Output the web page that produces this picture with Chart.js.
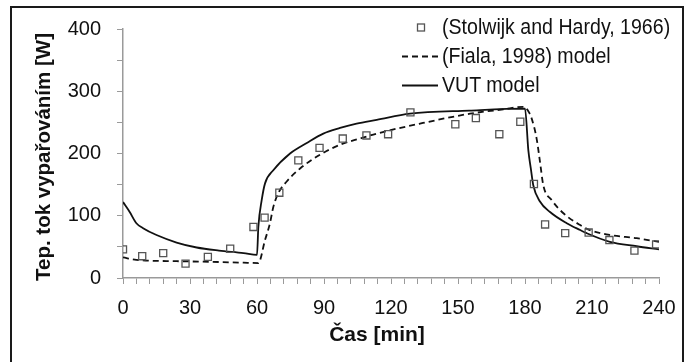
<!DOCTYPE html>
<html>
<head>
<meta charset="utf-8">
<script src="https://cdn.jsdelivr.net/npm/chart.js@4.4.0/dist/chart.umd.min.js"></script>
<style>
  html, body { margin: 0; padding: 0; background: #fff; overflow: hidden; }
  #wrap { position: relative; width: 692px; height: 362px; font-family: 'Liberation Sans', Arial, sans-serif; color: #111; }
  #frame { position: absolute; left: 10px; top: 6px; width: 670px; height: 400px; border: 2px solid #1a1a1a; pointer-events: none; }
  canvas { position: absolute; left: 0; top: 0; }
  #legend { position: absolute; left: 398px; top: 12.5px; font-size: 22px; }
  .row { height: 29px; display: flex; align-items: center; white-space: nowrap; }
  .row svg { width: 44px; height: 29px; flex: none; }
  .row span { display: inline-block; transform: scaleX(0.89); transform-origin: left center; }
  .axis-title { position: absolute; font-weight: bold; font-size: 21px; text-align: center; white-space: nowrap; }
  #xTitle { left: 277px; top: 320px; width: 200px; line-height: 28px; }
  #yTitle { left: -107px; top: 143px; width: 300px; line-height: 28px; font-size: 20.5px; transform: rotate(-90deg); }
</style>
</head>
<body>
<div id="wrap">
  <canvas id="chart" width="692" height="362"></canvas>
  <div id="frame"></div>
  <div id="xTitle" class="axis-title"></div>
  <div id="yTitle" class="axis-title"></div>
  <div id="legend"></div>
</div>
<script>
// measured points (Stolwijk and Hardy, 1966)
const stolTime = [0, 8.6, 18, 28, 38, 48, 58.4, 63.4, 70, 78.5, 88, 98.4, 109, 118.7, 128.7, 148.8, 158, 168.5, 177.9, 184, 189, 198, 208.5, 217.8, 229, 238.7];
const stolFlux = [46, 35, 40, 23, 34, 47, 82, 97, 137, 189, 209, 224, 229, 231, 266, 247, 257, 231, 251, 151, 86, 72, 73, 61, 44, 54];

// VUT model
const vutTime = [0, 3, 6, 9, 15, 24, 33, 43, 54, 60, 60.6, 62.1, 63.6, 67.3, 74.8, 82.3, 89.7, 97.2, 104.6, 113.6, 128.5, 155, 180, 181.5, 182.6, 183.7, 186.7, 191.2, 198.7, 204.7, 207.6, 218, 230, 240];
const vutFlux = [122, 106, 88, 80, 69, 57, 49, 44, 40, 37, 82, 125, 152, 173, 200, 217, 232, 241, 248, 254, 264, 269, 272, 205, 176, 149, 123, 106, 88, 77, 72, 58, 51, 46];

// Fiala, 1998 model
const fialaTime = [0, 6, 24, 39, 54, 60.6, 63.6, 65.8, 67.3, 69.5, 73.3, 79.3, 88.2, 97.2, 106, 113.6, 133, 155.4, 170.3, 179.3, 181.5, 183, 185.2, 186.7, 188.2, 192, 197.2, 204.7, 209, 218, 230, 240];
const fialaFlux = [33, 29, 27, 26, 24.6, 24, 61, 88, 114, 136, 155, 176, 198, 214, 224, 232, 248, 264, 271, 275, 268, 256, 224, 187, 149, 125, 104, 85, 77, 69, 64, 58];

// axis ticks and labels
const xMajor = [0, 30, 60, 90, 120, 150, 180, 210, 240];
const yMajor = [0, 100, 200, 300, 400];
const xLabel = 'Čas [min]';
const yLabel = 'Tep. tok vypařováním [W]';
const seriesNames = ['(Stolwijk and Hardy, 1966)', '(Fiala, 1998) model', 'VUT model'];

const pts = (xs, ys) => xs.map((x, i) => ({ x, y: ys[i] }));
const axisGrey = '#9a9a9a';

document.getElementById('xTitle').textContent = xLabel;
document.getElementById('yTitle').textContent = yLabel;

// legend symbols drawn next to the real text
const symbols = [
  '<rect x="19.5" y="11" width="7" height="7" fill="none" stroke="#555" stroke-width="1.3"/>',
  '<line x1="4" y1="14.5" x2="40" y2="14.5" stroke="#111" stroke-width="1.8" stroke-dasharray="6,4"/>',
  '<line x1="4" y1="14.5" x2="40" y2="14.5" stroke="#111" stroke-width="1.8"/>'
];
const legend = document.getElementById('legend');
seriesNames.forEach((name, i) => {
  const row = document.createElement('div');
  row.className = 'row';
  row.innerHTML = `<svg>${symbols[i]}</svg><span></span>`;
  row.querySelector('span').textContent = name;
  legend.appendChild(row);
});

Chart.defaults.font.family = "'Liberation Sans', Arial, sans-serif";
Chart.defaults.color = '#111';

new Chart(document.getElementById('chart'), {
  type: 'scatter',
  data: {
    datasets: [
      {
        label: seriesNames[0],
        data: pts(stolTime, stolFlux),
        pointStyle: 'rect',
        pointRadius: 5,
        borderColor: '#555',
        borderWidth: 1.3,
        backgroundColor: 'rgba(0,0,0,0)',
        showLine: false
      },
      {
        label: seriesNames[1],
        data: pts(fialaTime, fialaFlux),
        showLine: true,
        borderColor: '#111',
        borderWidth: 1.8,
        borderDash: [6, 4],
        pointRadius: 0,
        cubicInterpolationMode: 'monotone'
      },
      {
        label: seriesNames[2],
        data: pts(vutTime, vutFlux),
        showLine: true,
        borderColor: '#111',
        borderWidth: 1.8,
        pointRadius: 0,
        cubicInterpolationMode: 'monotone'
      }
    ]
  },
  options: {
    responsive: false,
    animation: false,
    layout: { padding: { top: 29, right: 33, left: 0, bottom: 0 } },
    plugins: { legend: { display: false }, tooltip: { enabled: false } },
    scales: {
      x: {
        type: 'linear',
        min: 0, max: 240,
        afterFit: s => { s.height = 84; },
        grid: { drawOnChartArea: false, color: axisGrey, tickLength: 6 },
        border: { color: axisGrey, width: 1.5 },
        ticks: {
          stepSize: 6, autoSkip: false, maxRotation: 0, padding: 12,
          font: { size: 20 },
          callback: v => xMajor.includes(v) ? v : ''
        }
      },
      y: {
        min: 0, max: 400,
        afterFit: s => { s.width = 123; },
        grid: { drawOnChartArea: false, color: axisGrey, tickLength: 6 },
        border: { color: axisGrey, width: 1.5 },
        ticks: {
          stepSize: 50, padding: 16,
          font: { size: 20 },
          callback: v => yMajor.includes(v) ? v : ''
        }
      }
    }
  }
});
</script>
</body>
</html>
